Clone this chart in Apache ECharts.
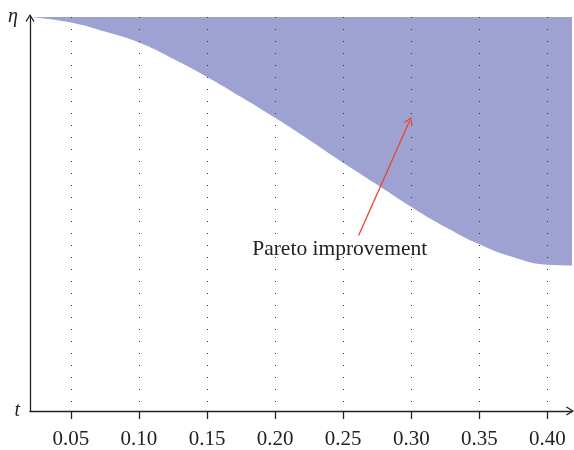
<!DOCTYPE html>
<html>
<head>
<meta charset="utf-8">
<script src="https://cdn.jsdelivr.net/npm/echarts@6/dist/echarts.min.js"></script>
<style>
  html, body { margin: 0; padding: 0; background: #fff; }
  #chart { width: 574px; height: 450px; }
</style>
</head>
<body>
<div id="chart"></div>
<script>
// curve of the frontier: t -> eta
const tValues = [0.02, 0.05, 0.075, 0.10, 0.125, 0.15, 0.175, 0.20, 0.225, 0.25, 0.275, 0.30, 0.325, 0.35, 0.375, 0.40, 0.418]
const etaValues = [1.0, 0.986, 0.963, 0.935, 0.894, 0.848, 0.797, 0.744, 0.688, 0.630, 0.574, 0.518, 0.467, 0.423, 0.390, 0.371, 0.369]
const tickValues = [0.05, 0.10, 0.15, 0.20, 0.25, 0.30, 0.35, 0.40]

// annotation
const arrowFrom = [0.2613, 0.4456]
const arrowTo = [0.2988, 0.7367]
const labelAt = [0.2474, 0.41]
const labelText = 'Pareto improvement'

const FONT = '"Liberation Serif", "DejaVu Serif", serif'
const INK = '#222'
const chevron = 'path://M5,0 L10,8 L9,9 L5,2.4 L1,9 L0,8 Z'

const chart = echarts.init(document.getElementById('chart'))

chart.setOption({
  animation: false,
  backgroundColor: '#fff',
  grid: { left: 30, right: 2, top: 17, bottom: 38 },
  xAxis: {
    type: 'value',
    min: 0.02,
    max: 0.418,
    z: 5,
    name: 't',
    nameLocation: 'start',
    nameGap: 10,
    nameTextStyle: { fontFamily: FONT, fontStyle: 'italic', fontSize: 20, color: INK, verticalAlign: 'middle' },
    axisLine: {
      lineStyle: { color: INK, width: 1.3 },
      symbol: ['none', chevron],
      symbolSize: [9, 8],
      symbolOffset: [0, -2]
    },
    axisTick: { show: true, length: 8, inside: false, lineStyle: { color: INK, width: 1.3 }, customValues: tickValues },
    axisLabel: {
      customValues: tickValues,
      margin: 18,
      color: INK,
      fontFamily: FONT,
      fontSize: 21,
      formatter: v => v.toFixed(2)
    },
    splitLine: { show: true, lineStyle: { color: '#333', width: 1, type: [1, 11] } }
  },
  yAxis: {
    type: 'value',
    min: 0,
    max: 1,
    z: 5,
    name: 'η',
    nameLocation: 'end',
    nameGap: 0,
    nameTextStyle: {
      fontFamily: FONT, fontStyle: 'italic', fontSize: 20, color: INK,
      align: 'right', verticalAlign: 'middle', padding: [0, 12, 0, 0]
    },
    axisLine: {
      show: true,
      lineStyle: { color: INK, width: 1.3 },
      symbol: ['none', chevron],
      symbolSize: [9, 8],
      symbolOffset: [0, -1]
    },
    axisTick: { show: false },
    axisLabel: { show: false },
    splitLine: { show: false }
  },
  series: [
    {
      type: 'line',
      data: tValues.map((t, i) => [t, etaValues[i]]),
      smooth: 0.5,
      symbol: 'none',
      lineStyle: { width: 0 },
      areaStyle: { origin: 'end', color: '#9ea2d2', opacity: 1 },
      markLine: {
        silent: true,
        symbol: ['none', chevron],
        symbolSize: [9, 8],
        label: { show: false },
        lineStyle: { color: '#e8452c', width: 1.3, type: 'solid' },
        data: [[{ coord: arrowFrom }, { coord: arrowTo }]]
      },
      markPoint: {
        silent: true,
        symbol: 'circle',
        symbolSize: 0,
        label: {
          show: true,
          position: 'inside',
          formatter: labelText,
          color: INK,
          fontFamily: FONT,
          fontSize: 21.5
        },
        data: [{ coord: labelAt }]
      }
    }
  ]
})
</script>
</body>
</html>
